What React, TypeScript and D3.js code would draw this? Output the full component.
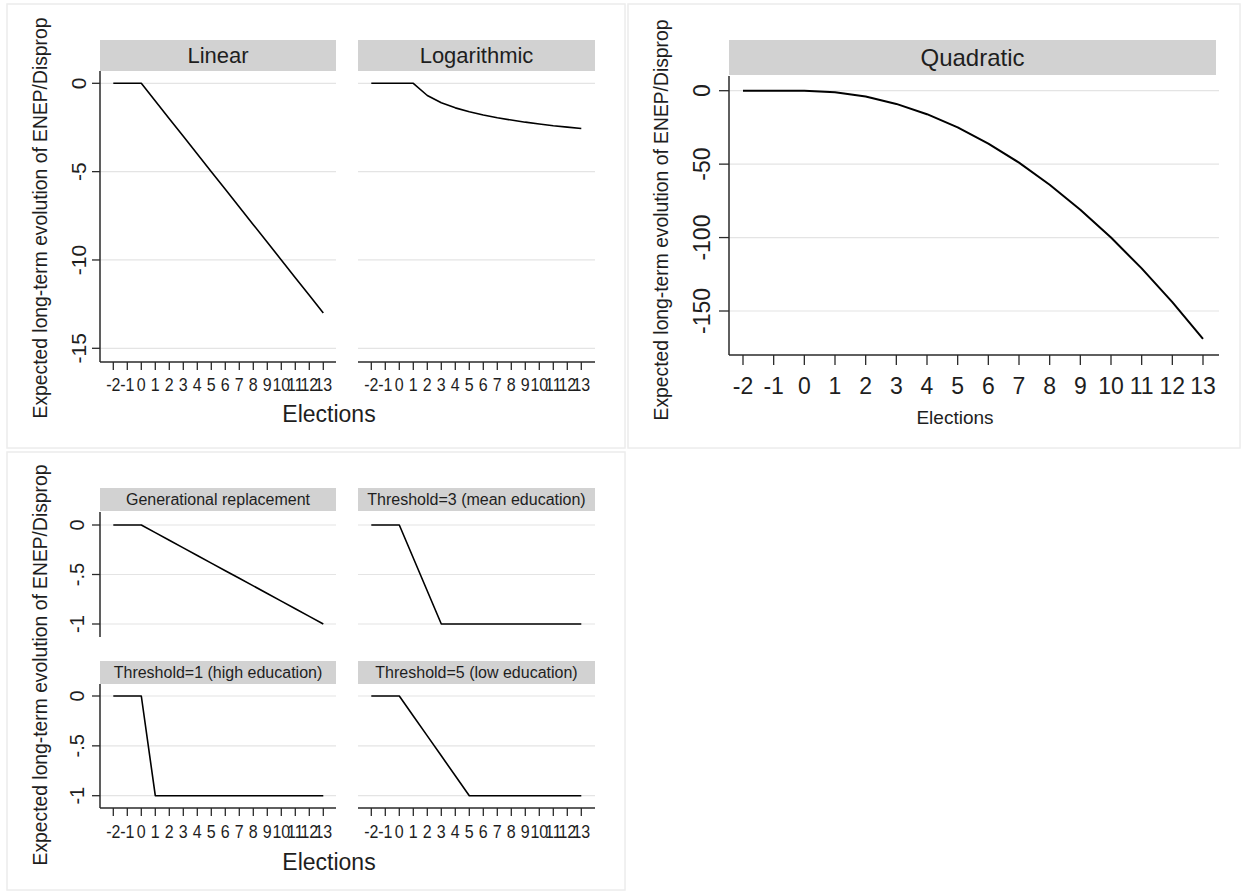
import React from "react";
import * as d3 from "d3";

const elections = [-2, -1, 0, 1, 2, 3, 4, 5, 6, 7, 8, 9, 10, 11, 12, 13];
const linearValues = [0, 0, 0, -1, -2, -3, -4, -5, -6, -7, -8, -9, -10, -11, -12, -13];
const logValues = [0, 0, 0, 0, -0.69, -1.1, -1.39, -1.61, -1.79, -1.95, -2.08, -2.2, -2.3, -2.4, -2.48, -2.56];
const quadValues = [0, 0, 0, -1, -4, -9, -16, -25, -36, -49, -64, -81, -100, -121, -144, -169];
const genValues = [0, 0, 0, -0.077, -0.154, -0.231, -0.308, -0.385, -0.462, -0.538, -0.615, -0.692, -0.769, -0.846, -0.923, -1];
const thr3Values = [0, 0, 0, -0.333, -0.667, -1, -1, -1, -1, -1, -1, -1, -1, -1, -1, -1];
const thr1Values = [0, 0, 0, -1, -1, -1, -1, -1, -1, -1, -1, -1, -1, -1, -1, -1];
const thr5Values = [0, 0, 0, -0.2, -0.4, -0.6, -0.8, -1, -1, -1, -1, -1, -1, -1, -1, -1];

const topTicks = [0, -5, -10, -15];
const topTickLabels = ["0", "-5", "-10", "-15"];
const quadTicks = [0, -50, -100, -150];
const quadTickLabels = ["0", "-50", "-100", "-150"];
const bottomTicks = [0, -0.5, -1];
const bottomTickLabels = ["0", "-.5", "-1"];

const yTitle = "Expected long-term evolution of ENEP/Disprop";
const xTitle = "Elections";

const FONT = "'Liberation Sans', Arial, Helvetica, sans-serif";
const TEXT = "#1e1e1e";
const STRIP = "#d2d2d2";
const GRID = "#e4e4e4";
const AXIS = "#2a2a2a";

type PanelCfg = {
  title: string;
  values: number[];
  stripX: [number, number];
  stripY: [number, number];
  plotX: [number, number];
  plotY: [number, number];
  xRange: [number, number];
  yDomain: [number, number];
  yRange: [number, number];
  yTicks: number[];
  yLabels: string[];
  showY: boolean;
  showX: boolean;
  stripFont: number;
  yFont: number;
  xFont: number;
  xStretch: number;
  yLabelX: number;
  tickLen: number;
  xLabelY: number;
  lineW: number;
};

function Panel({ c }: { c: PanelCfg }) {
  const x = d3.scaleLinear().domain([-2, 13]).range(c.xRange);
  const y = d3.scaleLinear().domain(c.yDomain).range(c.yRange);
  const line = d3
    .line<number>()
    .x((_, i) => x(elections[i]))
    .y((d) => y(d));
  return (
    <g>
      <rect
        x={c.stripX[0]}
        y={c.stripY[0]}
        width={c.stripX[1] - c.stripX[0]}
        height={c.stripY[1] - c.stripY[0]}
        fill={STRIP}
      />
      <text
        x={(c.stripX[0] + c.stripX[1]) / 2}
        y={(c.stripY[0] + c.stripY[1]) / 2}
        dy="0.36em"
        textAnchor="middle"
        fontSize={c.stripFont}
        fill={TEXT}
      >
        {c.title}
      </text>
      {c.yTicks.map((t) => (
        <line
          key={"g" + t}
          x1={c.plotX[0]}
          x2={c.plotX[1]}
          y1={y(t)}
          y2={y(t)}
          stroke={GRID}
          strokeWidth={1.2}
        />
      ))}
      {c.showY && (
        <g>
          <line x1={c.plotX[0]} x2={c.plotX[0]} y1={c.plotY[0]} y2={c.plotY[1]} stroke={AXIS} strokeWidth={1.5} />
          {c.yTicks.map((t, i) => (
            <g key={"y" + t}>
              <line
                x1={c.plotX[0] - c.tickLen}
                x2={c.plotX[0]}
                y1={y(t)}
                y2={y(t)}
                stroke={AXIS}
                strokeWidth={1.3}
              />
              <text
                transform={`translate(${c.yLabelX},${y(t)}) rotate(-90)`}
                dy="0.36em"
                textAnchor="middle"
                fontSize={c.yFont}
                fill={TEXT}
              >
                {c.yLabels[i]}
              </text>
            </g>
          ))}
        </g>
      )}
      {c.showX && (
        <g>
          <line x1={c.plotX[0]} x2={c.plotX[1]} y1={c.plotY[1]} y2={c.plotY[1]} stroke={AXIS} strokeWidth={1.5} />
          {elections.map((e) => (
            <g key={"x" + e}>
              <line
                x1={x(e)}
                x2={x(e)}
                y1={c.plotY[1]}
                y2={c.plotY[1] + c.tickLen}
                stroke={AXIS}
                strokeWidth={1.3}
              />
              <text
                transform={`translate(${x(e)},${c.xLabelY}) scale(1,${c.xStretch})`}
                textAnchor="middle"
                fontSize={c.xFont}
                fill={TEXT}
              >
                {String(e)}
              </text>
            </g>
          ))}
        </g>
      )}
      <path d={line(c.values) || ""} fill="none" stroke="#000" strokeWidth={c.lineW} strokeLinejoin="round" />
    </g>
  );
}

const L: [number, number] = [100, 336];
const R: [number, number] = [358, 595];
const LX: [number, number] = [113.3, 323.3];
const RX: [number, number] = [371.3, 581.3];

const topBase = {
  stripY: [40, 71] as [number, number],
  plotY: [71, 362] as [number, number],
  yDomain: [0, -15] as [number, number],
  yRange: [83.3, 348.3] as [number, number],
  yTicks: topTicks,
  yLabels: topTickLabels,
  showX: true,
  stripFont: 22,
  yFont: 21,
  xFont: 16,
  xStretch: 1.2,
  yLabelX: 78,
  tickLen: 8,
  xLabelY: 391,
  lineW: 1.6,
};

const panels: PanelCfg[] = [
  { ...topBase, title: "Linear", values: linearValues, stripX: L, plotX: L, xRange: LX, showY: true },
  { ...topBase, title: "Logarithmic", values: logValues, stripX: R, plotX: R, xRange: RX, showY: false },
  {
    title: "Quadratic",
    values: quadValues,
    stripX: [729, 1216],
    stripY: [40, 75],
    plotX: [729, 1219],
    plotY: [76, 355],
    xRange: [743, 1203],
    yDomain: [0, -150],
    yRange: [90.7, 311],
    yTicks: quadTicks,
    yLabels: quadTickLabels,
    showY: true,
    showX: true,
    stripFont: 24,
    yFont: 23,
    xFont: 23,
    xStretch: 1.05,
    yLabelX: 702,
    tickLen: 10,
    xLabelY: 394,
    lineW: 2,
  },
];

const bTop = {
  stripY: [488, 511] as [number, number],
  plotY: [512, 637] as [number, number],
  yRange: [525, 624] as [number, number],
  showX: false,
};
const bBot = {
  stripY: [661, 684] as [number, number],
  plotY: [684, 808] as [number, number],
  yRange: [696, 795.7] as [number, number],
  showX: true,
};
const bCommon = {
  yDomain: [0, -1] as [number, number],
  yTicks: bottomTicks,
  yLabels: bottomTickLabels,
  stripFont: 16,
  yFont: 20,
  xFont: 16,
  xStretch: 1.2,
  yLabelX: 77,
  tickLen: 8,
  xLabelY: 838,
  lineW: 1.6,
};

panels.push(
  { ...bCommon, ...bTop, title: "Generational replacement", values: genValues, stripX: L, plotX: L, xRange: LX, showY: true },
  { ...bCommon, ...bTop, title: "Threshold=3 (mean education)", values: thr3Values, stripX: R, plotX: R, xRange: RX, showY: false },
  { ...bCommon, ...bBot, title: "Threshold=1 (high education)", values: thr1Values, stripX: L, plotX: L, xRange: LX, showY: true },
  { ...bCommon, ...bBot, title: "Threshold=5 (low education)", values: thr5Values, stripX: R, plotX: R, xRange: RX, showY: false }
);

export default function App() {
  return (
    <svg
      width={1244}
      height={895}
      style={{ position: "absolute", left: 0, top: 0, fontFamily: FONT, background: "#fff" }}
    >
      <rect x={0} y={0} width={1244} height={895} fill="#fff" />
      <rect x={7} y={4} width={618} height={444} fill="none" stroke="#ececec" strokeWidth={1.5} />
      <rect x={628} y={4} width={612} height={444} fill="none" stroke="#ececec" strokeWidth={1.5} />
      <rect x={7} y={452} width={618} height={438} fill="none" stroke="#ececec" strokeWidth={1.5} />
      {panels.map((p) => (
        <Panel key={p.title} c={p} />
      ))}
      <text transform="translate(40,218) rotate(-90)" dy="0.36em" textAnchor="middle" fontSize={19.3} fill={TEXT}>
        {yTitle}
      </text>
      <text transform="translate(661,220) rotate(-90)" dy="0.36em" textAnchor="middle" fontSize={19.3} fill={TEXT}>
        {yTitle}
      </text>
      <text transform="translate(40,665) rotate(-90)" dy="0.36em" textAnchor="middle" fontSize={19.3} fill={TEXT}>
        {yTitle}
      </text>
      <text x={329} y={422} textAnchor="middle" fontSize={23} fill={TEXT}>
        {xTitle}
      </text>
      <text x={955} y={424} textAnchor="middle" fontSize={19} fill={TEXT}>
        {xTitle}
      </text>
      <text x={329} y={870} textAnchor="middle" fontSize={23} fill={TEXT}>
        {xTitle}
      </text>
    </svg>
  );
}
